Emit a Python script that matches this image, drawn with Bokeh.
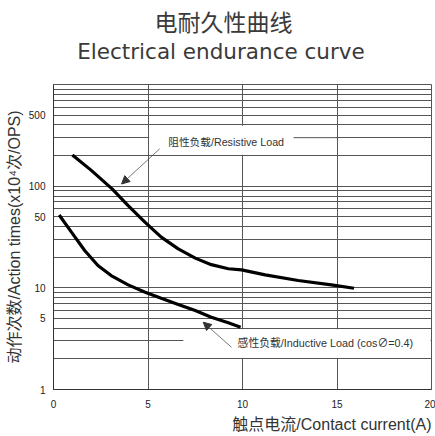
from bokeh.plotting import figure
from bokeh.models import FixedTicker, Title, Arrow, NormalHead, Label, NumeralTickFormatter, LinearAxis
from bokeh.embed import file_html
from bokeh.resources import INLINE

# ---- data ----
res_current = [1.0, 2.0, 3.1, 3.95, 4.85, 5.7, 6.6, 7.5, 8.35, 9.25, 9.95, 11.2, 12.95, 14.7, 15.9]
res_times = [203, 143, 94, 64.5, 44, 31.5, 24.2, 19.6, 16.9, 15.4, 15.0, 13.4, 11.8, 10.7, 9.9]
ind_current = [0.3, 0.95, 1.65, 2.35, 3.05, 3.95, 4.85, 5.7, 6.6, 7.5, 8.35, 9.25, 9.9]
ind_times = [52, 35.3, 23.3, 16.6, 13.2, 10.7, 9.06, 7.9, 6.86, 5.98, 5.14, 4.53, 4.1]
x_ticks = [0, 5, 10, 15, 20]
y_ticks = [1, 5, 10, 50, 100, 500]
y_grid = [m * 10 ** k for k in range(3) for m in range(1, 10)] + [1000]

title_cn = "电耐久性曲线"
title_en = "Electrical endurance curve"
x_label = "触点电流/Contact current(A)"
y_label = "动作次数/Action times(x10⁴次/OPS)"
res_label = "阻性负载/Resistive Load"
ind_label = "感性负载/Inductive Load (cos∅=0.4)"

GRID = "#555555"
LATIN = "Liberation Sans, Noto Sans CJK SC"
TXT = "#333333"

p = figure(width=435, height=436, x_range=(0, 20), y_range=(1, 1000),
           y_axis_type="log", output_backend="svg", toolbar_location=None,
           min_border_left=52, min_border_right=4, min_border_top=84, min_border_bottom=47)
p.background_fill_color = "white"
p.outline_line_color = GRID
p.outline_line_width = 1

# grids
p.xgrid.ticker = FixedTicker(ticks=x_ticks)
p.ygrid.ticker = FixedTicker(ticks=y_grid)
for g in (p.xgrid, p.ygrid):
    g.grid_line_color = GRID
    g.grid_line_width = 1
    g.grid_line_alpha = 1

# axes
xax = p.below[0]
yax = p.left[0]
xax.ticker = FixedTicker(ticks=x_ticks)
yax.ticker = FixedTicker(ticks=y_ticks)
yax.formatter = NumeralTickFormatter(format="0")
for ax in (xax, yax):
    ax.major_tick_line_color = None
    ax.minor_tick_line_color = None
    ax.major_tick_out = 0
    ax.minor_tick_out = 0
    ax.axis_line_color = "#333333"
    ax.axis_line_width = 1
    ax.major_label_text_font = LATIN
    ax.major_label_text_font_size = "10px"
    ax.major_label_text_color = "#222222"
xax.major_label_standoff = 10
yax.major_label_standoff = 8

# x label as right aligned title below
p.add_layout(Title(text=x_label, align="right", standoff=6, text_font=LATIN,
                   text_font_size="16px", text_font_style="normal", text_color=TXT), "below")

# y axis label as a left title (shifted up a little)
p.add_layout(Title(text=y_label, align="center", offset=10, standoff=6, text_font=LATIN,
                   text_font_size="16px", text_font_style="normal", text_color=TXT), "left")

# English title as label of an empty top axis (two em spaces move its centre to the page centre)
top_ax = LinearAxis(ticker=FixedTicker(ticks=[]), axis_line_color=None,
                    major_tick_line_color=None, minor_tick_line_color=None,
                    major_tick_out=0, minor_tick_out=0, major_label_standoff=0,
                    axis_label=title_en + "\u2003\u2003", axis_label_standoff=21,
                    axis_label_text_font="DejaVu Sans", axis_label_text_font_size="21.5px",
                    axis_label_text_font_style="normal", axis_label_text_color="#3a3a3a")
p.add_layout(top_ax, "above")
p.add_layout(Title(text=title_cn, align="left", offset=101, standoff=0, text_font=LATIN,
                   text_font_size="23px", text_font_style="normal", text_color="#3a3a3a"), "above")

# white label boxes interrupting the grid
p.quad(left=[5.06, 6.87], right=[14.94, 19.95], bottom=[204, 2.04], top=[392, 3.92],
       fill_color="white", line_color=None)
p.segment(x0=[12.7], y0=[300], x1=[15], y1=[300], line_color=GRID, line_width=1)

# curves
p.line(res_current, res_times, line_color="black", line_width=3.2, line_cap="butt")
p.line(ind_current, ind_times, line_color="black", line_width=3.2, line_cap="butt")

# annotations
p.add_layout(Arrow(end=NormalHead(size=8, fill_color="#333333", line_color="#333333"),
                   x_start=5.62, y_start=233, x_end=3.6, y_end=105,
                   line_color="#555555", line_width=0.8))
p.add_layout(Arrow(end=NormalHead(size=8, fill_color="#333333", line_color="#333333"),
                   x_start=9.42, y_start=2.6, x_end=7.92, y_end=4.59,
                   line_color="#555555", line_width=0.8))
p.add_layout(Label(x=6.07, y=271, text=res_label, text_font=LATIN, text_font_size="10.7px",
                   text_baseline="middle", text_align="left", text_color=TXT))
p.add_layout(Label(x=9.74, y=2.85, text=ind_label, text_font=LATIN, text_font_size="10.8px",
                   text_baseline="middle", text_align="left", text_color=TXT))

open("out.html", "w").write(file_html(p, INLINE))
